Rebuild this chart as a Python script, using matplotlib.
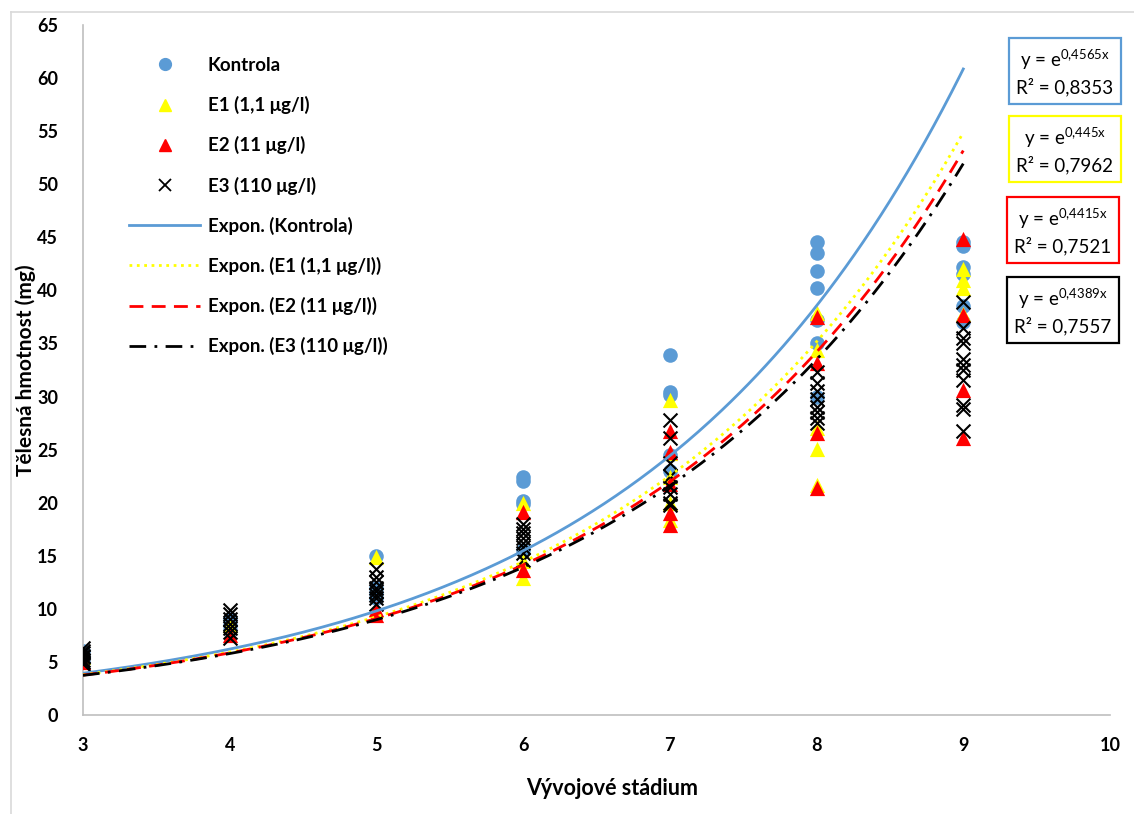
import matplotlib
matplotlib.use("Agg")
import matplotlib.pyplot as plt
import numpy as np
from matplotlib.lines import Line2D

plt.rcParams['font.family'] = ['Lato', 'DejaVu Sans']
plt.rcParams['mathtext.fontset'] = 'custom'
plt.rcParams['mathtext.rm'] = 'Lato'
plt.rcParams['mathtext.it'] = 'Lato'

# ---- data ----
kontrola_x = [3, 3, 3, 4, 4, 4, 5, 5, 5, 5, 6, 6, 6, 6, 6, 7, 7, 7, 7, 7,
              8, 8, 8, 8, 8, 8, 8, 9, 9, 9, 9, 9, 9]
kontrola_y = [5.0, 5.5, 6.0, 8.0, 8.5, 9.0, 15.0, 12.0, 11.5, 11.0,
              22.4, 22.0, 20.2, 19.9, 15.5, 33.9, 30.4, 30.1, 24.5, 23.0,
              44.6, 43.5, 41.8, 40.2, 37.2, 35.0, 30.0,
              44.6, 44.2, 42.2, 41.5, 38.5, 37.0]

e1_x = [3, 4, 5, 5, 6, 6, 6, 7, 7, 7, 7, 7, 8, 8, 8, 8, 8, 9, 9, 9, 9]
e1_y = [5.5, 8.5, 14.9, 9.9, 20.0, 14.5, 12.9, 29.7, 24.7, 22.4, 20.0, 18.4,
        37.9, 34.4, 27.0, 25.1, 21.7, 42.0, 41.0, 40.2, 37.8]

e2_x = [3, 4, 5, 5, 6, 6, 7, 7, 7, 7, 7, 8, 8, 8, 8, 9, 9, 9, 9]
e2_y = [5.0, 7.5, 9.4, 10.0, 19.1, 13.7, 26.8, 24.8, 21.8, 19.0, 17.9,
        37.5, 33.2, 26.6, 21.4, 44.8, 37.7, 30.6, 26.1]

e3_x = [3, 3, 3, 3, 3, 3, 3, 3,
        4, 4, 4, 4, 4, 4, 4,
        5, 5, 5, 5, 5, 5, 5, 5,
        6, 6, 6, 6, 6, 6, 6, 6,
        7, 7, 7, 7, 7, 7, 7, 7,
        8, 8, 8, 8, 8, 8, 8, 8,
        9, 9, 9, 9, 9, 9, 9, 9, 9, 9, 9]
e3_y = [4.8, 5.2, 5.5, 5.8, 6.0, 6.3, 5.0, 5.6,
        7.3, 7.8, 8.2, 8.6, 9.0, 9.5, 9.9,
        10.5, 11.0, 11.3, 11.7, 12.0, 12.5, 13.0, 13.8,
        14.6, 15.3, 15.8, 16.2, 16.7, 17.1, 17.5, 18.0,
        27.8, 26.1, 23.7, 22.5, 21.5, 20.8, 20.0, 19.8,
        32.3, 31.3, 30.5, 29.8, 29.0, 28.5, 28.0, 27.5,
        38.9, 36.5, 35.5, 35.0, 33.5, 33.0, 32.5, 31.6, 29.2, 28.8, 26.8]

# exponential trend coefficients y = e^(b x)
trend_b = [0.4565, 0.445, 0.4415, 0.4389]
trend_r2 = ['0,8353', '0,7962', '0,7521', '0,7557']
trend_b_txt = ['0,4565', '0,445', '0,4415', '0,4389']

series_labels = ['Kontrola', 'E1 (1,1 μg/l)', 'E2 (11 μg/l)', 'E3 (110 μg/l)']
colors = ['#5B9BD5', '#FFFF00', '#FF0000', '#000000']

xticks = [3, 4, 5, 6, 7, 8, 9, 10]
yticks = list(range(0, 70, 5))

# ---- figure ----
W, H = 1134, 814
fig = plt.figure(figsize=(W / 100, H / 100), dpi=100)
ax = fig.add_axes([83 / W, 1 - 715 / H, (1110 - 83) / W, (715 - 25) / H])

ax.scatter(kontrola_x, kontrola_y, s=110, marker='o', color=colors[0],
           linewidths=0, zorder=2)
ax.scatter(e1_x, e1_y, s=120, marker='^', color=colors[1], linewidths=0, zorder=3)
ax.scatter(e2_x, e2_y, s=120, marker='^', color=colors[2], linewidths=0, zorder=4)
ax.scatter(e3_x, e3_y, s=100, marker='x', color=colors[3], linewidths=1.5, zorder=5)

xs = np.linspace(3, 9, 300)
styles = ['-', ':', (0, (5, 3)), (0, (6, 3, 1, 3))]
for b, c, ls in zip(trend_b, colors, styles):
    ax.plot(xs, np.exp(b * xs), color=c, linestyle=ls, linewidth=2, zorder=6)

ax.set_xlim(3, 10)
ax.set_ylim(0, 65)
ax.set_xticks(xticks)
ax.set_yticks(yticks)
ax.tick_params(axis='both', length=0, labelsize=13)
ax.tick_params(axis='x', pad=16)
ax.tick_params(axis='y', pad=18)
for lab in ax.get_xticklabels() + ax.get_yticklabels():
    lab.set_fontweight('bold')
for s in ['top', 'right']:
    ax.spines[s].set_visible(False)
for s in ['left', 'bottom']:
    ax.spines[s].set_color('#BFBFBF')
    ax.spines[s].set_linewidth(1.2)

ax.set_xlabel('Vývojové stádium', fontsize=15.5, fontweight='bold')
ax.set_ylabel('Tělesná hmotnost (mg)', fontsize=15, fontweight='bold')
ax.xaxis.set_label_coords((612 - 83) / 1027, -(778 - 715) / 690)
ax.yaxis.set_label_coords(-(83 - 36) / 1027, (715 - 370) / 690)

# legend
handles = [
    Line2D([], [], linestyle='none', marker='o', markersize=8.5, color=colors[0]),
    Line2D([], [], linestyle='none', marker='^', markersize=8.5, color=colors[1]),
    Line2D([], [], linestyle='none', marker='^', markersize=8.5, color=colors[2]),
    Line2D([], [], linestyle='none', marker='x', markersize=8, color=colors[3],
           markeredgewidth=1.3),
]
for c, ls in zip(colors, styles):
    handles.append(Line2D([], [], color=c, linestyle=ls, linewidth=2))
labels = series_labels + ['Expon. (%s)' % l for l in series_labels]
leg = fig.legend(handles, labels, loc='upper left',
                 bbox_to_anchor=(112 / W, 1 - 40 / H), frameon=False,
                 prop={'weight': 'bold', 'size': 13.5}, handlelength=3.8,
                 handletextpad=0.4, labelspacing=1.18)

# trend equation boxes
box_centers = [(1065, 72), (1065, 150), (1063, 231), (1063, 311)]
for (cx, cy), b, r2, c in zip(box_centers, trend_b_txt, trend_r2, colors):
    txt = 'y = e$^{\\mathrm{%s}x}$\nR² = %s' % (b.replace(',', '{,}'), r2)
    fig.text(cx / W, 1 - cy / H, txt, ha='center', va='center', fontsize=13.5,
             linespacing=1.35,
             bbox=dict(boxstyle='square,pad=0.4', facecolor='white',
                       edgecolor=c, linewidth=1.6))

# outer chart-area border
fig.add_artist(Line2D([11 / W, 11 / W], [0, 1 - 12 / H], transform=fig.transFigure,
                      color='#D9D9D9', linewidth=1.2))
fig.add_artist(Line2D([11 / W, 1], [1 - 12 / H, 1 - 12 / H], transform=fig.transFigure,
                      color='#D9D9D9', linewidth=1.2))

fig.savefig('out.png', dpi=100)
